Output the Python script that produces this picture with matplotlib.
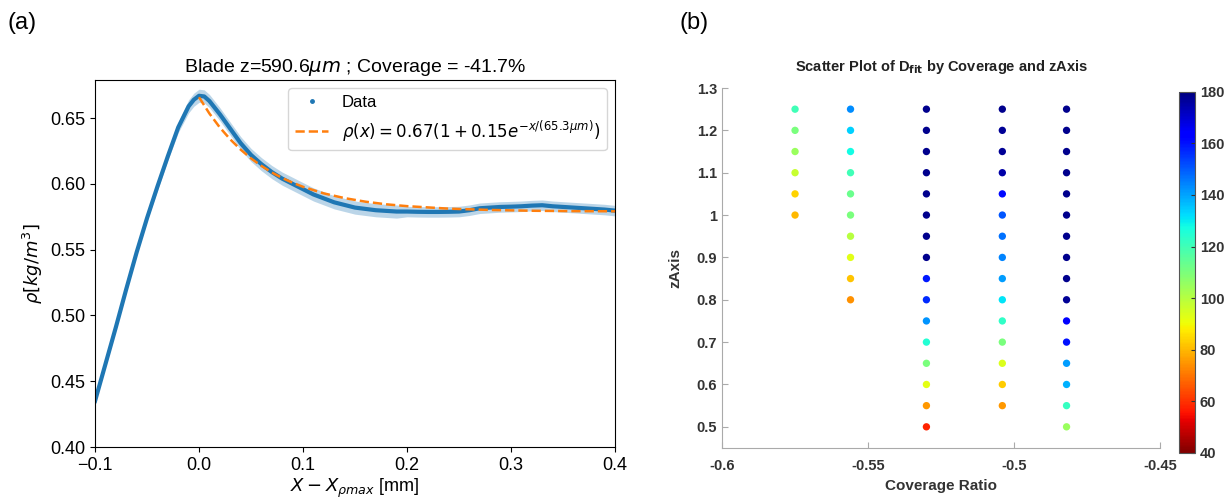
import matplotlib
matplotlib.use("Agg")
import matplotlib.pyplot as plt
from matplotlib.lines import Line2D
from matplotlib.ticker import FuncFormatter
import numpy as np

# ---- (a) density profile around the blade ----
x_mm = [-0.10, -0.09, -0.08, -0.07, -0.06, -0.05, -0.04, -0.03, -0.02, -0.01, -0.005,
        0.00, 0.005, 0.01, 0.02, 0.03, 0.04, 0.05, 0.06, 0.07, 0.08, 0.09,
        0.10, 0.11, 0.12, 0.13, 0.14, 0.15, 0.16, 0.17, 0.18, 0.19,
        0.20, 0.21, 0.22, 0.23, 0.24, 0.25, 0.26, 0.27, 0.28, 0.29,
        0.30, 0.31, 0.32, 0.33, 0.34, 0.35, 0.36, 0.37, 0.38, 0.39, 0.40]
rho = [0.435, 0.463, 0.491, 0.520, 0.548, 0.574, 0.598, 0.621, 0.643, 0.659, 0.664,
       0.667, 0.6665, 0.663, 0.653, 0.642, 0.631, 0.622, 0.615, 0.609, 0.604, 0.600,
       0.596, 0.592, 0.589, 0.586, 0.584, 0.582, 0.581, 0.580, 0.5795, 0.579,
       0.579, 0.5788, 0.5787, 0.5787, 0.5788, 0.579, 0.580, 0.5815, 0.582, 0.5825,
       0.5827, 0.583, 0.5835, 0.5838, 0.583, 0.5825, 0.582, 0.5815, 0.581, 0.5805, 0.5797]
rho_err = [0.002, 0.002, 0.002, 0.002, 0.002, 0.002, 0.003, 0.003, 0.004, 0.005, 0.005,
           0.005, 0.005, 0.005, 0.005, 0.005, 0.005, 0.005, 0.005, 0.005, 0.005, 0.005,
           0.005, 0.005, 0.005, 0.005, 0.005, 0.005, 0.005, 0.005, 0.005, 0.005,
           0.004, 0.004, 0.004, 0.004, 0.004, 0.004, 0.004, 0.004, 0.004, 0.004,
           0.004, 0.004, 0.004, 0.004, 0.004, 0.004, 0.004, 0.004, 0.004, 0.004, 0.004]

# exponential fit, only right of the peak
fit_x = [0.00, 0.01, 0.02, 0.03, 0.04, 0.05, 0.06, 0.07, 0.08, 0.09, 0.10,
         0.12, 0.14, 0.16, 0.18, 0.20, 0.24, 0.28, 0.32, 0.36, 0.40]
fit_rho = [0.6659, 0.6535, 0.6429, 0.6339, 0.6261, 0.6194, 0.6137, 0.6087, 0.6045,
           0.6009, 0.5978, 0.5928, 0.5892, 0.5865, 0.5845, 0.5831, 0.5812, 0.5802,
           0.5796, 0.5793, 0.5792]

# ---- (b) D_fit scatter ----
cov_cols = [-0.575, -0.556, -0.530, -0.504, -0.482]
z_cols = [
    [1.00, 1.05, 1.10, 1.15, 1.20, 1.25],
    [0.80, 0.85, 0.90, 0.95, 1.00, 1.05, 1.10, 1.15, 1.20, 1.25],
    [0.50, 0.55, 0.60, 0.65, 0.70, 0.75, 0.80, 0.85, 0.90, 0.95, 1.00, 1.05, 1.10, 1.15, 1.20, 1.25],
    [0.55, 0.60, 0.65, 0.70, 0.75, 0.80, 0.85, 0.90, 0.95, 1.00, 1.05, 1.10, 1.15, 1.20, 1.25],
    [0.50, 0.55, 0.60, 0.65, 0.70, 0.75, 0.80, 0.85, 0.90, 0.95, 1.00, 1.05, 1.10, 1.15, 1.20, 1.25],
]
d_cols = [
    [80, 84, 97, 105, 110, 120],
    [74, 82, 93, 100, 110, 113, 120, 128, 134, 143],
    [58, 75, 92, 110, 125, 142, 157, 159, 178, 178, 178, 178, 178, 178, 178, 178],
    [75, 83, 94, 110, 123, 131, 141, 144, 147, 151, 161, 175, 177, 177, 178],
    [105, 122, 138, 141, 160, 162, 177, 178, 178, 178, 178, 178, 178, 178, 178, 178],
]

cov_all, z_all, d_all = [], [], []
for c, zs, ds in zip(cov_cols, z_cols, d_cols):
    cov_all += [c] * len(zs)
    z_all += zs
    d_all += ds

fig = plt.figure(figsize=(12.28, 5), dpi=100)

# left panel, plain matplotlib look
plt.rcParams['font.family'] = ['Liberation Sans', 'DejaVu Sans']
ax = fig.add_axes([0.0774, 0.106, 0.4234, 0.734])
ax.fill_between(x_mm, np.array(rho) - np.array(rho_err), np.array(rho) + np.array(rho_err),
                color='#1f77b4', alpha=0.3, linewidth=0)
ax.plot(x_mm, rho, color='#1f77b4', lw=3)
ax.plot(fit_x, fit_rho, '--', color='#ff7f0e', lw=1.8)
ax.set_xlim(-0.1, 0.4)
ax.set_ylim(0.40, 0.679)
ax.set_yticks([0.40, 0.45, 0.50, 0.55, 0.60, 0.65])
ax.tick_params(labelsize=13)
ax.set_title(r'Blade z=590.6$\mu m$ ; Coverage = -41.7%', fontsize=14)
ax.set_xlabel(r'$X - X_{\rho max}$ [mm]', fontsize=13, labelpad=2)
ax.set_ylabel(r'$\rho [kg/m^3]$', fontsize=13)
handles = [Line2D([], [], color='#1f77b4', marker='.', ls='none', markersize=5),
           Line2D([], [], color='#ff7f0e', ls='--', lw=1.8)]
ax.legend(handles, ['Data', r'$\rho(x) = 0.67(1 + 0.15e^{-x/(65.3\mu m)})$'],
          loc='upper right', fontsize=12)
fig.text(0.006, 0.955, '(a)', fontsize=17, va='center')

# right panel, MATLAB-like styling
grey_txt = '#333333'
axb = fig.add_axes([0.588, 0.104, 0.3566, 0.72])
sc = axb.scatter(cov_all, z_all, c=d_all, cmap='jet_r', vmin=40, vmax=180, s=28, linewidths=0)
axb.set_xlim(-0.6, -0.45)
axb.set_ylim(0.45, 1.3)
axb.set_xticks([-0.6, -0.55, -0.5, -0.45])
axb.set_yticks([0.5, 0.6, 0.7, 0.8, 0.9, 1.0, 1.1, 1.2, 1.3])
fmt = FuncFormatter(lambda v, p: f'{v:g}')
axb.xaxis.set_major_formatter(fmt)
axb.yaxis.set_major_formatter(fmt)
for s in ['top', 'right']:
    axb.spines[s].set_visible(False)
for s in ['left', 'bottom']:
    axb.spines[s].set_color('#aaaaaa')
axb.tick_params(direction='in', length=4, color='#aaaaaa', labelcolor=grey_txt, labelsize=10.5)
for lbl in axb.get_xticklabels() + axb.get_yticklabels():
    lbl.set_fontweight('bold')
axb.xaxis.set_tick_params(pad=8)
axb.set_title(r'Scatter Plot of D$_{\mathbf{fit}}$ by Coverage and zAxis',
              fontsize=10.5, fontweight='bold', color='#222222', pad=12)
axb.set_xlabel('Coverage Ratio', fontsize=11, fontweight='bold', color=grey_txt)
axb.set_ylabel('zAxis', fontsize=11, fontweight='bold', color=grey_txt, labelpad=10)
fig.text(0.553, 0.955, '(b)', fontsize=17, va='center')

cax = fig.add_axes([0.960, 0.094, 0.013, 0.7226])
cb = fig.colorbar(sc, cax=cax, ticks=range(40, 181, 20))
cb.outline.set_edgecolor('#555555')
cax.tick_params(direction='in', length=3, color='#333333', labelcolor=grey_txt, labelsize=10.5)
for lbl in cax.get_yticklabels():
    lbl.set_fontweight('bold')

fig.savefig('out.png', dpi=100)
